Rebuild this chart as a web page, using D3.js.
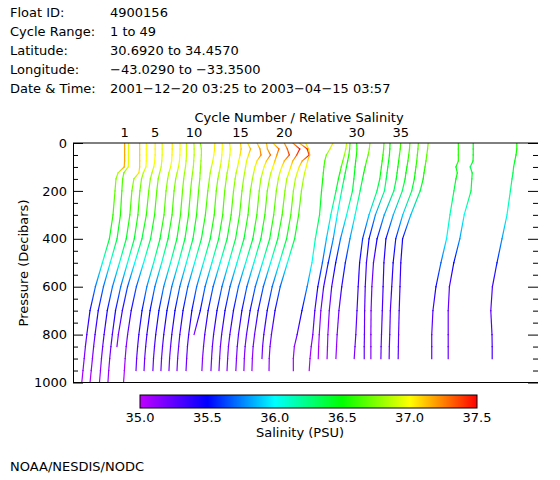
<!DOCTYPE html>
<html><head><meta charset="utf-8">
<script src="https://cdn.jsdelivr.net/npm/d3@7"></script>
<style>
body{margin:0;background:#fff}
text{font-family:"DejaVu Sans",sans-serif;font-size:13px;fill:#000}
</style></head>
<body>
<script>
// ---------------- data ----------------
const headerLabels = ["Float ID:", "Cycle Range:", "Latitude:", "Longitude:", "Date & Time:"];
const headerValues = ["4900156", "1 to 49", "30.6920 to 34.4570", "\u221243.0290 to \u221233.3500", "2001\u221212\u221220 03:25 to 2003\u221204\u221215 03:57"];

const pressureLevels = [0, 25, 50, 75, 100, 125, 150, 200, 300, 400, 500, 600, 700, 800, 850, 900, 950, 1000];

const cycles = [1,2,3,4,5,6,7,8,9,10,11,12,13,14,15,16,17,18,19,20,21,22,23,26,28,29,30,31,33,34,35,36,37,38,42,44,49];

const salinityProfiles = [
 [37.18,37.18,37.18,37.18,37.16,36.85,36.75,36.70,36.60,36.42,36.07,35.72,35.45,35.29,35.22,35.16,35.10,35.04],
 [36.95,36.95,36.95,36.95,36.94,36.72,36.66,36.62,36.55,36.38,36.04,35.70,35.44,35.28,35.21,35.15,35.09,35.03],
 [37.09,37.09,37.09,37.09,37.09,37.05,36.80,36.70,36.60,36.42,36.08,35.73,35.47,35.31,35.24,35.18,35.13,35.08],
 [37.00,37.00,37.00,37.00,36.98,36.85,36.76,36.68,36.58,36.40,36.06,35.72,35.46,35.30,35.23,35.17,35.12,35.08],
 [37.02,37.02,37.02,37.00,36.95,36.86,36.78,36.70,36.58,36.36,36.00,35.64,35.38,35.18,35.11,null,null,null],
 [36.95,36.95,36.95,36.93,36.90,36.82,36.75,36.68,36.57,36.37,36.02,35.66,35.40,35.22,35.15,35.10,35.06,35.02],
 [37.03,37.03,37.02,37.00,36.95,36.86,36.80,36.72,36.62,36.42,36.10,35.76,35.52,35.36,35.30,35.25,35.22,null],
 [37.00,37.00,36.99,36.97,36.92,36.85,36.78,36.70,36.60,36.40,36.08,35.74,35.50,35.34,35.28,35.23,35.20,null],
 [36.90,36.90,36.90,36.88,36.85,36.80,36.76,36.70,36.60,36.42,36.10,35.76,35.52,35.36,35.30,35.25,35.22,null],
 [36.85,36.86,36.86,36.84,36.82,36.78,36.74,36.68,36.58,36.40,36.08,35.74,35.50,35.34,35.28,35.23,35.20,null],
 [36.75,36.80,36.80,36.78,36.76,36.74,36.72,36.66,36.56,36.38,36.05,35.72,35.48,35.32,35.26,35.21,35.18,null],
 [37.05,37.04,37.00,36.95,36.88,36.82,36.78,36.70,36.58,36.38,36.04,35.70,35.46,35.30,35.24,35.19,35.16,null],
 [37.00,37.00,36.98,36.95,36.90,36.84,36.78,36.70,36.60,36.40,36.06,35.72,35.48,35.32,35.26,35.22,35.19,null],
 [36.95,36.98,36.96,36.92,36.88,36.82,36.78,36.70,36.60,36.40,36.06,35.72,35.48,35.17,null,null,null,null],
 [37.07,37.10,37.05,36.98,36.92,36.85,36.80,36.72,36.60,36.40,36.05,35.70,35.45,35.28,35.22,35.17,35.14,null],
 [37.00,37.15,37.05,36.95,36.90,36.85,36.80,36.72,36.60,36.40,36.06,35.72,35.47,35.30,35.24,35.20,35.17,null],
 [37.05,37.20,37.25,37.05,36.95,36.88,36.82,36.72,36.60,36.40,36.05,35.70,35.45,35.28,35.22,35.18,35.15,null],
 [37.10,37.15,37.30,37.10,36.98,36.90,36.82,36.74,36.62,36.42,36.06,35.70,35.45,35.27,35.20,35.16,35.13,null],
 [37.00,37.30,37.20,37.10,37.00,36.90,36.83,36.72,36.60,36.40,36.05,35.70,35.45,35.28,35.22,35.18,35.15,null],
 [37.15,37.30,37.40,37.15,37.02,36.92,36.85,36.75,36.62,36.42,36.06,35.70,35.44,35.26,35.19,35.15,35.13,null],
 [37.15,37.50,37.35,37.15,37.05,36.95,36.85,36.76,36.62,36.40,36.04,35.68,35.42,35.24,35.17,35.13,35.11,null],
 [37.05,37.45,37.55,37.20,37.05,36.95,36.86,36.76,36.63,36.42,36.06,35.70,35.45,35.28,35.22,35.19,null,null],
 [36.95,37.10,37.15,37.05,36.98,36.90,36.84,36.74,36.60,36.40,36.04,35.68,35.42,35.24,35.17,35.13,35.12,null],
 [37.05,36.90,36.72,36.64,36.60,36.57,36.54,36.48,36.38,36.17,36.00,35.76,35.50,35.26,35.12,35.07,35.07,null],
 [36.89,36.85,36.78,36.70,36.62,36.55,36.48,36.36,36.10,35.88,35.68,35.45,35.30,35.20,35.12,35.06,35.02,null],
 [36.64,36.62,36.58,36.52,36.46,36.40,36.34,36.22,36.00,35.80,35.55,35.32,35.18,35.10,35.07,35.05,null,null],
 [36.55,36.56,36.54,36.50,36.47,36.44,36.41,36.34,36.05,35.74,35.50,35.30,35.18,35.11,35.09,35.07,null,null],
 [36.79,36.76,36.70,36.62,36.55,36.48,36.42,36.30,36.05,35.79,35.56,35.38,35.24,35.15,35.12,35.09,null,null],
 [36.65,36.63,36.60,36.56,36.52,36.48,36.44,36.30,35.90,35.58,35.43,35.36,35.30,35.24,35.20,35.16,null,null],
 [36.53,36.52,36.50,36.46,36.42,36.38,36.34,36.25,35.80,35.48,35.35,35.29,35.26,35.25,35.24,35.24,null,null],
 [36.64,36.62,36.58,36.54,36.50,36.46,36.42,36.30,35.82,35.46,35.28,35.20,35.16,35.15,35.15,35.15,null,null],
 [36.68,36.66,36.62,36.58,36.53,36.48,36.44,36.30,35.85,35.48,35.38,35.34,35.30,35.26,35.24,35.23,null,null],
 [36.68,36.66,36.63,36.60,36.56,36.52,36.48,36.35,35.90,35.55,35.42,35.35,35.28,35.25,35.23,35.22,null,null],
 [36.75,36.72,36.68,36.64,36.59,36.54,36.50,36.35,35.88,35.47,35.38,35.34,35.30,35.27,35.26,35.25,null,null],
 [36.57,36.57,36.57,36.57,36.45,36.52,36.45,36.35,36.15,35.98,35.70,35.45,35.30,35.24,35.24,35.24,null,null],
 [36.47,36.47,36.47,36.46,36.32,36.42,36.40,36.36,36.02,35.80,35.50,35.28,35.22,35.22,35.22,35.22,null,null],
 [36.54,36.54,36.50,36.44,36.38,36.35,36.30,36.22,36.05,35.80,35.55,35.32,35.24,35.30,35.31,35.31,null,null]
];

const labeledCycles = [1, 5, 10, 15, 20, 30, 35];
const pressureTicks = [0, 200, 400, 600, 800, 1000];
const pressureMinorTicks = [50,100,150,250,300,350,450,500,550,650,700,750,850,900,950];
const colorbarTicks = [35.0, 35.5, 36.0, 36.5, 37.0, 37.5];
const colorStops = [35.0, 35.25, 35.5, 35.75, 36.0, 36.25, 36.5, 36.75, 37.0, 37.25, 37.5];
const colorValues = ["#c000ff","#6000ff","#0000ff","#0080ff","#00ffff","#00ff80","#00ff00","#80ff00","#ffff00","#ff8000","#ff0000"];

// ---------------- drawing ----------------
const svg = d3.select("body").append("svg").attr("width", 560).attr("height", 480);
const defs = svg.append("defs");

const L = 73, R = 538, T = 143, B = 382.5;
const y = d3.scaleLinear().domain([0, 1000]).range([T, B]);
const xCycle = d3.scaleLinear().domain([1, 49]).range([81, 486]);
const xSal = d3.scaleLinear().domain([35, 37.5]).range([0, 50]);
const color = d3.scaleLinear().domain(colorStops).range(colorValues).clamp(true);

// header
const hdr = svg.append("g");
headerLabels.forEach((t, i) => {
  hdr.append("text").attr("x", 10).attr("y", 17 + i * 19).text(t);
  hdr.append("text").attr("x", 110).attr("y", 17 + i * 19).text(headerValues[i]);
});

// clip
defs.append("clipPath").attr("id", "plotclip").append("rect")
  .attr("x", L).attr("y", T).attr("width", R - L).attr("height", B - T);

// profiles
const gp = svg.append("g").attr("clip-path", "url(#plotclip)");
cycles.forEach((c, i) => {
  const prof = salinityProfiles[i];
  const pts = [];
  prof.forEach((s, j) => { if (s !== null) pts.push({p: pressureLevels[j], s}); });
  for (let k = 0; k < pts.length - 1; k++) {
    const a = pts[k], b = pts[k + 1];
    const x1 = xCycle(c) + xSal(a.s), y1 = y(a.p);
    const x2 = xCycle(c) + xSal(b.s), y2 = y(b.p);
    const id = `g${i}_${k}`;
    const gr = defs.append("linearGradient").attr("id", id)
      .attr("gradientUnits", "userSpaceOnUse")
      .attr("x1", x1).attr("y1", y1).attr("x2", x2).attr("y2", y2);
    gr.append("stop").attr("offset", 0).attr("stop-color", color(a.s));
    gr.append("stop").attr("offset", 1).attr("stop-color", color(b.s));
    gp.append("line").attr("x1", x1).attr("y1", y1).attr("x2", x2).attr("y2", y2)
      .attr("stroke", `url(#${id})`).attr("stroke-width", 1.2)
      .attr("stroke-linecap", "square");
  }
});

// frame lines (top and bottom)
svg.append("path").attr("d", `M${L},${T}H${R}`).attr("stroke", "#000").attr("fill", "none");
svg.append("path").attr("d", `M${L},${B}H${R}`).attr("stroke", "#000").attr("fill", "none");

// left axis
const axL = svg.append("g").attr("transform", `translate(${L},0)`)
  .call(d3.axisLeft(y).tickValues(pressureTicks).tickSize(-10).tickSizeOuter(0).tickPadding(6).tickFormat(d3.format("d")));
axL.select(".domain").attr("stroke", "#000");
axL.selectAll(".tick line").attr("stroke", "#000");
axL.selectAll("text").attr("font-size", 13).attr("font-family", "DejaVu Sans").attr("fill", "#000");
svg.append("g").attr("transform", `translate(${L},0)`)
  .call(d3.axisLeft(y).tickValues(pressureMinorTicks).tickSize(-5).tickFormat(""))
  .call(g => g.select(".domain").remove());

// right ticks
svg.append("g").attr("transform", `translate(${R},0)`)
  .call(d3.axisLeft(y).tickValues(pressureTicks).tickSize(10).tickFormat(""))
  .call(g => g.select(".domain").remove());
svg.append("g").attr("transform", `translate(${R},0)`)
  .call(d3.axisLeft(y).tickValues(pressureMinorTicks).tickSize(5).tickFormat(""))
  .call(g => g.select(".domain").remove());

svg.append("text").attr("transform", "translate(28,263) rotate(-90)")
  .attr("text-anchor", "middle").text("Pressure (Decibars)");

// top labels
svg.append("text").attr("x", 299).attr("y", 122).attr("text-anchor", "middle")
  .text("Cycle Number / Relative Salinity");
labeledCycles.forEach(c => {
  const i = cycles.indexOf(c);
  const sx = xCycle(c) + xSal(salinityProfiles[i][0]);
  svg.append("text").attr("x", sx).attr("y", 137).attr("text-anchor", "middle").text(c);
});

// colorbar
const cb = d3.scaleLinear().domain([35, 37.5]).range([140, 477]);
const grad = defs.append("linearGradient").attr("id", "cbgrad")
  .attr("x1", "0%").attr("x2", "100%").attr("y1", "0%").attr("y2", "0%");
colorStops.forEach((s, i) => {
  grad.append("stop").attr("offset", (s - 35) / 2.5).attr("stop-color", colorValues[i]);
});
svg.append("rect").attr("x", cb(35)).attr("y", 395).attr("width", cb(37.5) - cb(35)).attr("height", 13)
  .attr("fill", "url(#cbgrad)").attr("stroke", "#000").attr("stroke-width", 1);
colorbarTicks.forEach(t => {
  svg.append("text").attr("x", cb(t)).attr("y", 422).attr("text-anchor", "middle").text(t.toFixed(1));
});
svg.append("text").attr("x", 300).attr("y", 437).attr("text-anchor", "middle").text("Salinity (PSU)");

svg.append("text").attr("x", 10).attr("y", 471).text("NOAA/NESDIS/NODC");
</script>
</body></html>
